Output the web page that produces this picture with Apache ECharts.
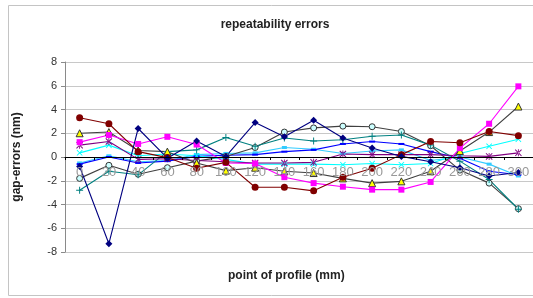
<!DOCTYPE html>
<html>
<head>
<meta charset="utf-8">
<script src="https://cdn.jsdelivr.net/npm/echarts@6/dist/echarts.min.js"></script>
<style>
  html, body { margin: 0; padding: 0; background: #fff; }
  #main { width: 533px; height: 298px; }
</style>
</head>
<body>
<div id="main"></div>
<script>
// points of the profile (mm)
var categories = ['0', '20', '40', '60', '80', '100', '120', '140', '160', '180', '200', '220', '240', '260', '280', '300'];

// gap-errors (nm) of each measurement run
var navyRun    = [-0.8, -7.3, 2.4, -0.1, 1.35, 0.05, 2.9, 1.7, 3.1, 1.6, 0.75, 0.05, -0.4, -0.9, -1.6, -1.3];
var magentaRun = [1.25, 1.85, 1.1, 1.7, 1.05, -0.5, -0.55, -1.7, -2.2, -2.5, -2.75, -2.75, -2.1, 0.75, 2.8, 5.95];
var yellowRun  = [2.0, 2.1, 0.55, 0.45, -0.5, -1.15, -0.9, -1.2, -1.35, -1.8, -2.2, -2.05, -1.2, 0.5, 2.1, 4.25];
var cyanRun    = [0.35, 1.0, 0.1, 0.25, 0.1, -0.2, -0.6, -0.6, -0.6, -0.65, -0.55, -0.65, -0.55, 0.3, 0.9, 1.5];
var purpleRun  = [1.0, 1.3, -0.2, -0.15, -0.3, -0.4, -0.5, -0.5, -0.45, 0.25, 0.2, 0.2, 0.2, 0.1, 0.05, 0.35];
var redRun     = [3.3, 2.8, 0.45, -0.05, -0.95, -0.45, -2.55, -2.55, -2.85, -1.7, -0.95, 0.2, 1.3, 1.2, 2.15, 1.8];
var tealRun    = [-2.8, -1.2, -1.5, 0.45, 0.6, 1.65, 0.9, 1.6, 1.35, 1.45, 1.75, 1.85, 1.0, -0.35, -1.9, -4.4];
var blueRun    = [-0.6, 0.0, -0.5, -0.35, 0.05, 0.15, 0.2, 0.45, 0.6, 1.1, 1.3, 1.1, 0.45, -0.1, -1.2, -1.5];
var circleRun  = [-1.8, -0.7, -1.45, -0.9, -0.35, 0.05, 0.8, 2.1, 2.45, 2.6, 2.55, 2.15, 0.95, -1.1, -2.2, -4.35];
var skyRun     = [-0.5, 0.1, -0.4, -0.3, 0.2, 0.3, 0.35, 0.8, 0.65, 0.3, 0.5, 0.6, -0.3, 0.0, -0.6, -1.6];

// y axis ticks
var yMin = -8, yMax = 8, yStep = 2;

// marker shapes like the old excel ones
var xMark = 'path://M1,0L5,4L9,0L10,1L6,5L10,9L9,10L5,6L1,10L0,9L4,5L0,1Z';
var plusMark = 'path://M4.3,0H5.7V4.3H10V5.7H5.7V10H4.3V5.7H0V4.3H4.3Z';
var starMark = 'path://M1,0L5,4L9,0L10,1L6,5L10,9L9,10L5,6L1,10L0,9L4,5L0,1Z M4.4,0V10H5.6V0Z';

function run(data, lineColor, fill, symbol, size, border) {
  return {
    type: 'line',
    data: data,
    symbol: symbol,
    symbolSize: size,
    showAllSymbol: true,
    lineStyle: { color: lineColor, width: 1.1 },
    itemStyle: { color: fill, borderColor: border || fill, borderWidth: border ? 1 : 0 },
    emphasis: { disabled: true }
  };
}

var myChart = echarts.init(document.getElementById('main'));

// plot is 190px high, zero sits in the middle -> pull the x axis up 95px
var option = {
  animation: false,
  textStyle: { fontFamily: 'Liberation Sans, Arial, sans-serif' },
  title: {
    text: 'repeatability errors',
    left: 270,
    top: 14,
    textAlign: 'center',
    textStyle: { fontSize: 12, fontWeight: 'bold', color: '#222' }
  },
  graphic: [
    {
      type: 'rect',
      shape: { x: 8.5, y: 5.5, width: 540, height: 290 },
      style: { fill: 'none', stroke: '#c4c4c4', lineWidth: 1 },
      z: -10
    },
    {
      type: 'text',
      left: 228,
      top: 270,
      style: { text: 'point of profile (mm)', fontSize: 12, fontWeight: 'bold', fill: '#222', fontFamily: 'Liberation Sans, Arial, sans-serif' }
    }
  ],
  grid: { left: 65, top: 62, width: 469, height: 190 },
  xAxis: {
    type: 'category',
    data: categories,
    boundaryGap: true,
    offset: -95,
    axisLine: { onZero: false, lineStyle: { color: '#000', width: 1 } },
    axisTick: { show: true, length: 3, lineStyle: { color: '#000' } },
    axisLabel: { color: '#999', fontSize: 13, margin: 9, interval: 0 },
    splitLine: { show: false },
    z: 5
  },
  yAxis: {
    type: 'value',
    min: yMin,
    max: yMax,
    interval: yStep,
    name: 'gap-errors (nm)',
    nameLocation: 'middle',
    nameGap: 42,
    nameTextStyle: { fontSize: 12, fontWeight: 'bold', color: '#222' },
    axisLine: { show: true, lineStyle: { color: '#8a8a8a' } },
    axisTick: { show: true, length: 4, lineStyle: { color: '#8a8a8a' } },
    axisLabel: { color: '#333', fontSize: 11, margin: 8 },
    splitLine: { lineStyle: { color: '#c8c8c8', width: 1 } }
  },
  series: [
    run(skyRun, '#33ccff', '#33ccff', 'rect', [5, 3]),
    run(blueRun, '#0000ff', '#0000ff', 'rect', [6, 2]),
    run(circleRun, '#404040', '#ccffff', 'circle', 6, '#333'),
    run(tealRun, '#008080', '#008080', plusMark, 7),
    run(cyanRun, '#00ffff', '#00ffff', xMark, 6),
    run(purpleRun, '#800080', '#800080', starMark, 7),
    run(yellowRun, '#404040', '#ffff00', 'triangle', 7, '#333'),
    run(magentaRun, '#ff00ff', '#ff00ff', 'rect', 6),
    run(redRun, '#800000', '#800000', 'circle', 7),
    run(navyRun, '#000080', '#000080', 'diamond', 7)
  ]
};

myChart.setOption(option);
</script>
</body>
</html>
